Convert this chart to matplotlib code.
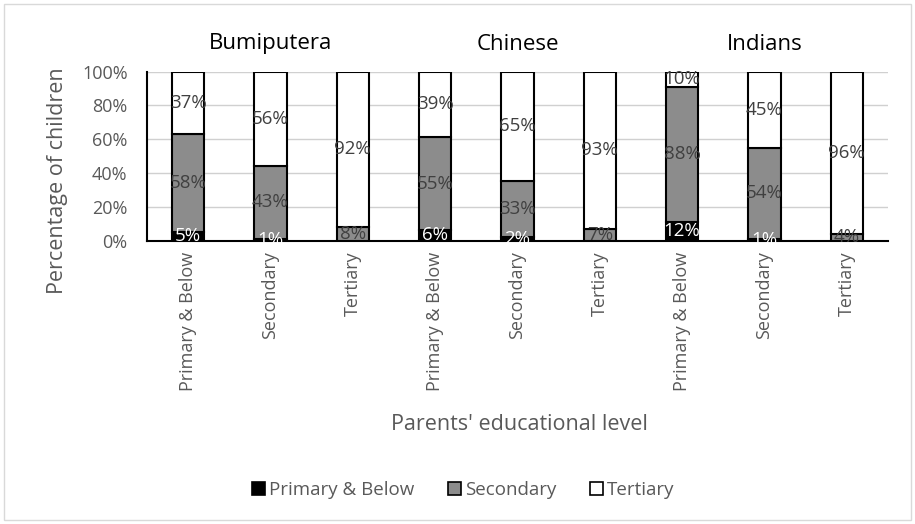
import matplotlib.pyplot as plt
import numpy as np
from matplotlib.patches import Rectangle
from matplotlib.ticker import PercentFormatter

plt.rcParams['font.family'] = ['Open Sans', 'DejaVu Sans']

groups = ['Bumiputera', 'Chinese', 'Indians']
levels = ['Primary & Below', 'Secondary', 'Tertiary']

# child outcome shares (%) per parents' level, in bar order
primary = [5, 1, 0, 6, 2, 0, 12, 1, 0]
secondary = [58, 43, 8, 55, 33, 7, 88, 54, 4]
tertiary = [37, 56, 92, 39, 65, 93, 10, 45, 96]

series = [primary, secondary, tertiary]
colors = ['#000000', '#8c8c8c', '#ffffff']
label_colors = ['#ffffff', '#404040', '#404040']

vals = np.array(series, dtype=float)
shares = vals / vals.sum(axis=0) * 100
x = np.arange(vals.shape[1])

fig = plt.figure(figsize=(9.15, 5.24), dpi=100)
ax = fig.add_axes([147 / 915, 1 - 240.5 / 524, 741 / 915, 169 / 524])

bottom = np.zeros(len(x))
for k, (share, raw) in enumerate(zip(shares, vals)):
    ax.bar(x, share, 0.39, bottom=bottom, color=colors[k],
           edgecolor='black', linewidth=1.5, zorder=3, label=levels[k])
    for xi, b, h, r in zip(x, bottom, share, raw):
        if r > 0:
            ax.text(xi, b + h / 2, f'{int(r)}%', ha='center', va='center',
                    fontsize=13.5, color=label_colors[k], zorder=4)
    bottom += share

ax.set_xlim(-0.5, len(x) - 0.5)
ax.set_ylim(0, 100)
ax.set_yticks(np.arange(0, 101, 20))
ax.yaxis.set_major_formatter(PercentFormatter(decimals=0))
ax.yaxis.grid(True, color='#d0d0d0', linewidth=1, zorder=0)
ax.set_axisbelow(True)
for side in ['top', 'right']:
    ax.spines[side].set_visible(False)
for side in ['left', 'bottom']:
    ax.spines[side].set_color('black')
    ax.spines[side].set_linewidth(1.5)
ax.tick_params(axis='y', length=0, labelsize=13, labelcolor='#595959', pad=14)
ax.tick_params(axis='x', length=0, labelsize=13, labelcolor='#595959', pad=8)
ax.set_xticks(x)
ax.set_xticklabels(levels * len(groups), rotation=90, va='top')

for g, name in enumerate(groups):
    xc = ax.transData.transform((g * 3 + 1, 0))[0] / fig.bbox.width
    fig.text(xc, 1 - 44 / 524, name, ha='center', va='center', fontsize=16,
             color='black')

fig.text(519 / 915, 1 - 425 / 524, "Parents' educational level", ha='center',
         va='center', fontsize=15.5, color='#595959')
fig.text(57 / 915, 1 - 181 / 524, 'Percentage of children', ha='center',
         va='center', rotation=90, fontsize=15.5, color='#595959')

handles = [Rectangle((0, 0), 1, 1, facecolor=c, edgecolor='black', linewidth=1.2)
           for c in colors]
fig.legend(handles, levels, loc='center', bbox_to_anchor=(463 / 915, 1 - 490 / 524),
           ncol=3, frameon=False, fontsize=13.5, handlelength=0.7, handleheight=0.7,
           handletextpad=0.2, columnspacing=1.8, labelcolor='#595959')

fig.patches.append(Rectangle((4 / 915, 4 / 524), 907 / 915, 516 / 524,
                             transform=fig.transFigure, fill=False,
                             edgecolor='#d9d9d9', linewidth=1))

fig.savefig('out.png', dpi=100)
